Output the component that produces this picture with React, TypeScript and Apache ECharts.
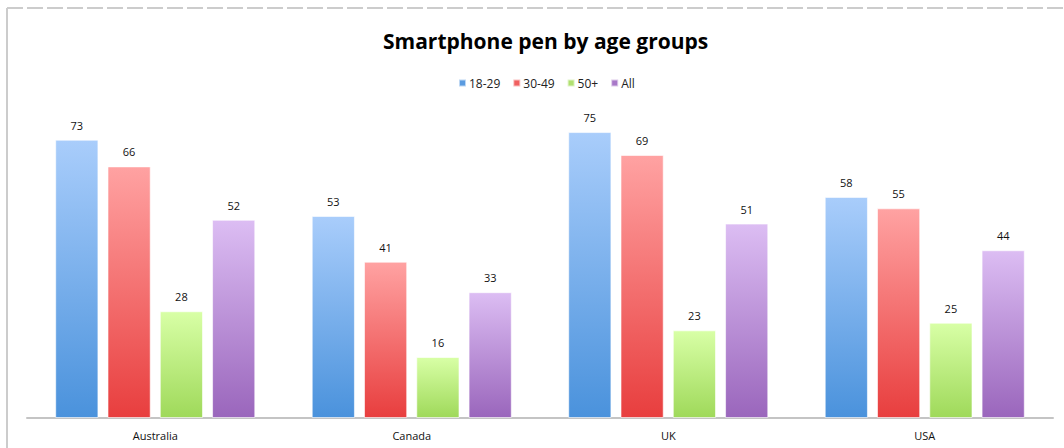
import React, { useEffect, useRef } from "react";
import * as echarts from "echarts";

const categories = ["Australia", "Canada", "UK", "USA"];
const seriesNames = ["18-29", "30-49", "50+", "All"];
const values18_29 = [73, 53, 75, 58];
const values30_49 = [66, 41, 69, 55];
const values50p = [28, 16, 23, 25];
const valuesAll = [52, 33, 51, 44];

const gradients = [
  ["#a9cdfb", "#4a92dc"],
  ["#ffa2a2", "#e83e3e"],
  ["#d8ffa6", "#9fd95a"],
  ["#dcbdf3", "#9a66bc"],
];
const legendColors = ["#5a9be0", "#f06060", "#b0e070", "#a878c8"];

export default function App() {
  const ref = useRef<HTMLDivElement>(null);
  useEffect(() => {
    if (!ref.current) return;
    const chart = echarts.init(ref.current, undefined, { renderer: "svg" });
    const data = [values18_29, values30_49, values50p, valuesAll];
    chart.setOption({
      animation: false,
      backgroundColor: "#ffffff",
      title: {
        text: "Smartphone pen by age groups",
        left: 378,
        top: 25,
        textStyle: {
          fontFamily: "Open Sans",
          fontWeight: "bold",
          fontSize: 21,
          color: "#000",
        },
      },
      legend: {
        data: seriesNames.map((n, i) => ({ name: n, itemStyle: { color: legendColors[i] } })),
        top: 72,
        left: 453,
        itemWidth: 7,
        itemHeight: 7,
        itemGap: 12,
        icon: "rect",
        textStyle: { fontFamily: "Open Sans", fontSize: 12, color: "#222", padding: [0, 0, 0, -2] },
      },
      grid: { left: 27, right: 11, top: 113, bottom: 30, containLabel: false },
      xAxis: {
        type: "category",
        data: categories,
        axisLine: { lineStyle: { color: "#c4c4c4", width: 2 } },
        axisTick: { show: false },
        axisLabel: { fontFamily: "Open Sans", fontSize: 11, color: "#111", margin: 12 },
      },
      yAxis: {
        type: "value",
        min: 0,
        max: 80,
        show: false,
        splitLine: { show: false },
      },
      series: seriesNames.map((name, i) => ({
        name,
        type: "bar",
        data: data[i],
        barGap: "21%",
        barCategoryGap: "22%",
        itemStyle: {
          color: new echarts.graphic.LinearGradient(0, 0, 0, 1, [
            { offset: 0, color: gradients[i][0] },
            { offset: 1, color: gradients[i][1] },
          ]),
          borderColor: "rgba(255,255,255,0.6)",
          borderWidth: 1,
        },
        label: {
          show: true,
          position: "top",
          distance: 9,
          fontFamily: "Open Sans",
          fontSize: 11,
          color: "#111",
        },
      })),
      graphic: [
        {
          type: "line",
          shape: { x1: 7, y1: 8, x2: 1064, y2: 8 },
          style: { stroke: "#cccccc", lineWidth: 2, lineDash: [16, 4] },
        },
        {
          type: "line",
          shape: { x1: 7, y1: 8, x2: 7, y2: 448 },
          style: { stroke: "#cccccc", lineWidth: 2 },
        },
      ],
    });
    return () => chart.dispose();
  }, []);
  return (
    <div
      ref={ref}
      style={{ position: "fixed", left: 0, top: 0, width: 1064, height: 448 }}
    />
  );
}
